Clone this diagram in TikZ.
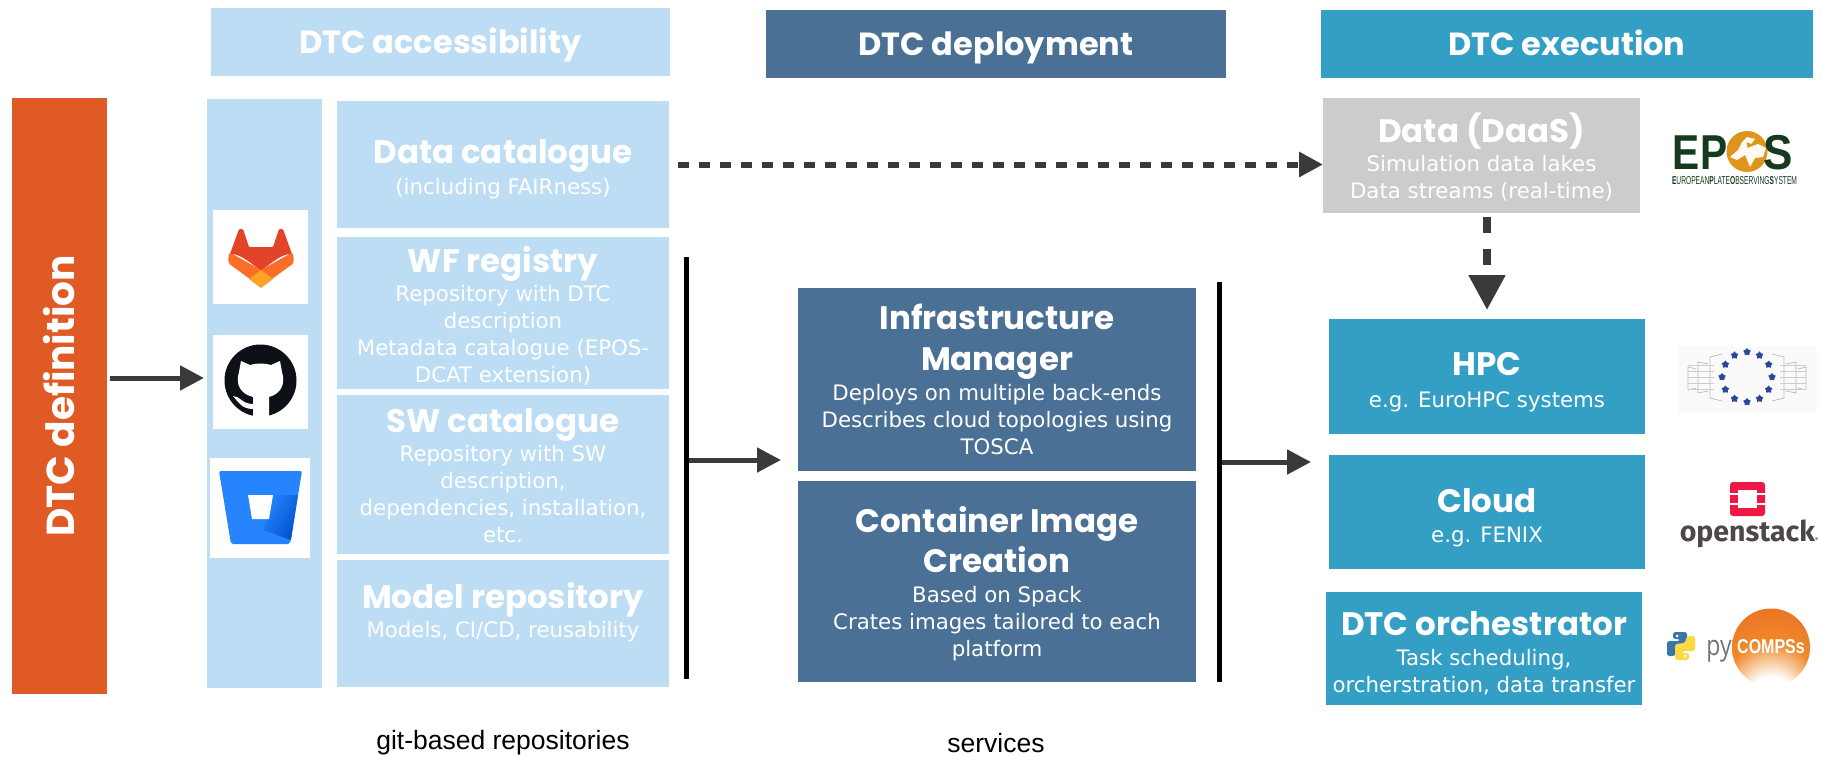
\documentclass[tikz,border=0pt]{standalone}
\usepackage{fontspec}
\usepackage{graphicx}
\usetikzlibrary{arrows.meta,shapes.geometric}
\setmainfont{DejaVu Sans}
\newfontfamily\headfont{Poppins}
\newfontfamily\logofont{Liberation Sans}
\newfontfamily\stackfont{Fira Sans}
\newfontfamily\pyfont{Open Sans}
\definecolor{lightblue}{HTML}{BDDDF5}
\definecolor{deployblue}{HTML}{4A7095}
\definecolor{execblue}{HTML}{339FC5}
\definecolor{defred}{HTML}{E05A26}
\definecolor{datagray}{HTML}{CCCCCC}
\definecolor{arrowgray}{HTML}{3A3A3A}
\definecolor{gitlabred}{HTML}{E24329}
\definecolor{gitlaborange}{HTML}{FC6D26}
\definecolor{gitlabyellow}{HTML}{FCA326}
\definecolor{githubblack}{HTML}{0D1117}
\definecolor{bucketblue}{HTML}{2684FF}
\definecolor{bucketdark}{HTML}{0052CC}
\definecolor{eposgreen}{HTML}{163A1E}
\definecolor{eposorange}{HTML}{DD951C}
\definecolor{eublue}{HTML}{2B479C}
\definecolor{stackred}{HTML}{ED1944}
\definecolor{stackgray}{HTML}{4D4846}
\definecolor{pyblue}{HTML}{3A75A8}
\definecolor{pyyellow}{HTML}{FFD845}
\definecolor{compsred}{HTML}{E8601E}
\definecolor{compsorange}{HTML}{F08A2A}
\pgfdeclareradialshading{compsball}{\pgfpoint{0bp}{-38bp}}{color(0bp)=(white); color(14bp)=(white); color(30bp)=(compsorange); color(60bp)=(compsred); color(82bp)=(compsred); color(98bp)=(compsorange); color(100bp)=(compsorange)}
\newcommand{\titlefont}{\headfont\bfseries\fontsize{32.5}{36}\selectfont}
\newcommand{\boxtitle}[2]{{\titlefont\rule{0pt}{#1pt}#2}}
\tikzset{
    box/.style={inner sep=0pt, outer sep=0pt, align=center, text=white, font=\fontsize{21.3}{27}\selectfont},
    lightbox/.style={box, fill=lightblue, minimum width=332pt},
    deploybox/.style={box, fill=deployblue, minimum width=398pt},
    execbox/.style={box, fill=execblue, minimum width=316pt},
    header/.style={box, font=\headfont\bfseries\fontsize{32}{36}\selectfont, minimum height=68pt, text height=30pt, text depth=8pt},
    logobox/.style={inner sep=0pt, outer sep=0pt, fill=white},
    bar/.style={inner sep=0pt, outer sep=0pt, fill=black, minimum width=5pt},
    mainarrow/.style={draw=arrowgray, line width=5pt, -{Triangle[length=24pt,width=24pt,fill=arrowgray]}},
    dasharrow/.style={mainarrow, line width=6pt, dash pattern=on 11pt off 10pt},
    note/.style={font=\logofont\fontsize{26.5}{30}\selectfont, inner sep=0pt},
    logotext/.style={inner sep=0pt, outer sep=0pt},
    rung/.style={draw=gray!55, line width=.7pt}
}
\begin{document}
\begin{tikzpicture}[x=1pt, y=-1pt]
    \useasboundingbox (0,0) rectangle (1822,756);
    \node[header, fill=lightblue, minimum width=459pt] (accesshead) at (440.5,42) {DTC accessibility};
    \node[header, fill=deployblue, minimum width=460pt] (deployhead) at (996,44) {DTC deployment};
    \node[header, fill=execblue, minimum width=492pt] (exechead) at (1567,44) {DTC execution};
    \node[box, fill=defred, font=\headfont\bfseries\fontsize{39}{42}\selectfont, minimum width=95pt, minimum height=596pt] (dtcdef) at (59.5,396) {\rotatebox{90}{DTC definition}};
    \node[box, fill=lightblue, minimum width=115pt, minimum height=589pt] (repocol) at (264.5,393.5) {};
    \node[logobox, minimum width=95pt, minimum height=94pt] (gitlabbox) at (260.5,257) {};
    \node[logobox, minimum width=95pt, minimum height=94pt] (githubbox) at (260.5,382) {};
    \node[logobox, minimum width=100pt, minimum height=100pt] (bitbucketbox) at (260,508) {};

    \node[lightbox, minimum height=127pt] (catalogue) at (503,164.5) {\boxtitle{33.5}{Data catalogue}\\[3.5pt](including FAIRness)};
    \node[lightbox, minimum height=152pt] (wfreg) at (503,313) {\boxtitle{32}{WF registry}\\[2.5pt]Repository with DTC\\description\\Metadata catalogue (EPOS-\\DCAT extension)};
    \node[lightbox, minimum height=159pt] (swcat) at (503,474.5) {\boxtitle{27}{SW catalogue}\\[2pt]Repository with SW\\description,\\dependencies, installation,\\etc.};
    \node[lightbox, minimum height=127pt] (modelrepo) at (503,623.5) {\boxtitle{24}{Model repository}\\[1.6pt]Models, CI/CD, reusability\\[0pt]\mbox{}};

    \node[bar, minimum height=422pt] (bara) at (686,468) {};
    \node[bar, minimum height=400pt] (barb) at (1219,482) {};

    \node[deploybox, minimum height=183pt] (infra) at (997,379.5) {{\titlefont Infrastructure}\\[14pt]{\titlefont Manager}\\[3.5pt]Deploys on multiple back-ends\\Describes cloud topologies using\\TOSCA};
    \node[deploybox, minimum height=201pt] (container) at (997,581.5) {\boxtitle{30.5}{Container Image}\\[4pt]{\titlefont Creation}\\[3.5pt]Based on Spack\\Crates images tailored to each\\platform};

    \node[execbox, fill=datagray, minimum width=317pt, minimum height=115pt] (data) at (1481.5,155.5) {\boxtitle{32}{Data (DaaS)}\\[2pt]Simulation data lakes\\Data streams (real-time)};
    \node[execbox, minimum height=115pt] (hpc) at (1487,376.5) {\boxtitle{35}{HPC}\\[5pt]e.g. EuroHPC systems};
    \node[execbox, minimum height=114pt] (cloud) at (1487,512) {\boxtitle{36}{Cloud}\\[2.6pt]e.g. FENIX};
    \node[execbox, minimum height=113pt] (orchestrator) at (1484,648.5) {\boxtitle{33.5}{DTC orchestrator}\\[3.5pt]Task scheduling,\\orcherstration, data transfer};

    \node[note] (gitnote) at (503,743) {git-based repositories};
    \node[note] (servicenote) at (996,743) {services};

    \coordinate (repoin) at (204,378);
    \coordinate (deployin) at (781,460);
    \coordinate (execin) at (1311,462);
    \draw[mainarrow, shorten <=3pt] (dtcdef.east |- repoin) -- (repoin);
    \draw[mainarrow] (bara.east |- deployin) -- (deployin);
    \draw[mainarrow] (barb.east |- execin) -- (execin);
    \draw[dasharrow, shorten <=9pt] (catalogue.east) -- (data.west |- catalogue.east);
    \draw[mainarrow, line width=8pt, dash pattern=on 16pt off 16pt, -{Triangle[length=35pt,width=35pt,fill=arrowgray]}, shorten <=4pt, shorten >=9pt] (hpc.north |- data.south) -- (hpc.north);

    \fill[gitlaborange, rounded corners=3pt] (229,252) -- (228,263) -- (261,287) -- (294,263) -- (293,252) -- (261,270) -- cycle;
    \fill[gitlabyellow] (249,279) -- (261,270) -- (273,279) -- (261,288) -- cycle;
    \fill[gitlabred, rounded corners=1pt] (230,254) -- (239,229) -- (243,229) -- (249,247) -- (273,247) -- (279,229) -- (283,229) -- (292,254) .. controls (280,254) and (270,265) .. (261,270) .. controls (252,265) and (242,254) .. (230,254) -- cycle;

    \fill[githubblack] (260.5,380.5) circle (36);
    \fill[white] (241,361) -- (250,365) .. controls (256,363) and (265,363) .. (271,365) -- (280,361) -- (282,372) .. controls (286,385) and (280,394) .. (269,397) -- (269,417) -- (253,417) -- (253,397) .. controls (241,394) and (235,385) .. (239,372) -- cycle;
    \fill[white] (233,396) .. controls (240,396) and (242,404) .. (253,404) -- (253,409) .. controls (242,409) and (238,402) .. (233,396) -- cycle;

    \fill[bucketblue, rounded corners=2pt] (219,471) -- (302,471) -- (290,544) -- (231,544) -- cycle;
    \shade[left color=bucketblue, right color=bucketdark, shading angle=60] (263,530) -- (273,495) -- (298,495) -- (291,540) -- cycle;
    \fill[white] (248,495) -- (273,495) -- (269,519) -- (252,519) -- cycle;

    \node[logotext, font=\logofont\bfseries\fontsize{49}{50}\selectfont, text=eposgreen, xscale=.83] (eposa) at (1700,152.5) {EP};
    \fill[eposorange] (1747,151.5) circle (20.5);
    \fill[white!95!orange] (1730,157) -- (1738,150) -- (1742,142) -- (1747,137) -- (1755,139) -- (1751,144) -- (1747,142) -- (1747,148) -- (1758,144) -- (1766,148) -- (1763,157) -- (1755,158) -- (1750,167) -- (1745,155) -- (1737,160) -- cycle;
    \node[logotext, font=\logofont\bfseries\fontsize{49}{50}\selectfont, text=eposgreen, xscale=.9] (eposb) at (1778,152.5) {S};
    \node[logotext, text=eposgreen] (epostext) at (1734.5,181) {\resizebox{125pt}{8pt}{\logofont\textbf{E}UROPEAN\textbf{P}LATE\textbf{O}BSERVING\textbf{S}YSTEM}};

    \fill[black!2] (1678,347) rectangle (1817,412);
    \foreach \s in {-1,1} {
        \draw[rung] ({1747+\s*25},354) -- ({1747+\s*37},357) -- ({1747+\s*37},398) -- ({1747+\s*25},401);
        \draw[rung] ({1747+\s*39},364) -- ({1747+\s*49},362) -- ({1747+\s*49},393) -- ({1747+\s*39},391);
        \draw[rung] ({1747+\s*51},369) -- ({1747+\s*59},367) -- ({1747+\s*59},390) -- ({1747+\s*51},388);
        \foreach \r in {-12,-6,0,6,12}
            \draw[rung, gray!40] ({1747+\s*33},{377+\r}) -- ({1747+\s*59},{377+\r});
    }
    \foreach \i in {0,...,11}
        \node[star, star points=5, fill=eublue, inner sep=0pt, minimum size=8pt] (eustar\i) at ({1747+25*cos(30*\i)},{377+25*sin(30*\i)}) {};

    \fill[stackred, rounded corners=3pt] (1730,482) rectangle (1765,516);
    \fill[white] (1738,490) rectangle (1757,508);
    \fill[white] (1730,493) rectangle (1738,495);
    \fill[white] (1730,503) rectangle (1738,505);
    \fill[white] (1757,493) rectangle (1765,495);
    \fill[white] (1757,503) rectangle (1765,505);
    \node[logotext, font=\stackfont\bfseries\fontsize{28.5}{36}\selectfont, text=stackgray] (openstack) at (1749,534) {openstack\raisebox{0pt}{\fontsize{5}{5}\selectfont ®}};

    \fill[pyblue, rounded corners=2.5pt] (1673,632) -- (1687,632) -- (1687,648) -- (1677,649) -- (1675,656) -- (1667,656) -- (1667,641) -- (1680,641) -- (1680,639) -- (1673,639) -- cycle;
    \fill[pyyellow, rounded corners=2.5pt] (1689,660) -- (1675,660) -- (1675,644) -- (1685,643) -- (1687,636) -- (1695,636) -- (1695,651) -- (1682,651) -- (1682,653) -- (1689,653) -- cycle;
    \fill[white] (1677,636) circle (1.5);
    \fill[white] (1685,656) circle (1.5);
    \node[logotext, font=\pyfont\fontsize{28}{32}\selectfont, text=black!55, xscale=.82] (pytext) at (1719,651) {py};
    \shade[shading=compsball] (1771,647.5) circle (39);
    \node[logotext, font=\logofont\bfseries\fontsize{20}{24}\selectfont, text=white, xscale=.8] (compss) at (1771,647) {COMPSs};
\end{tikzpicture}
\end{document}
